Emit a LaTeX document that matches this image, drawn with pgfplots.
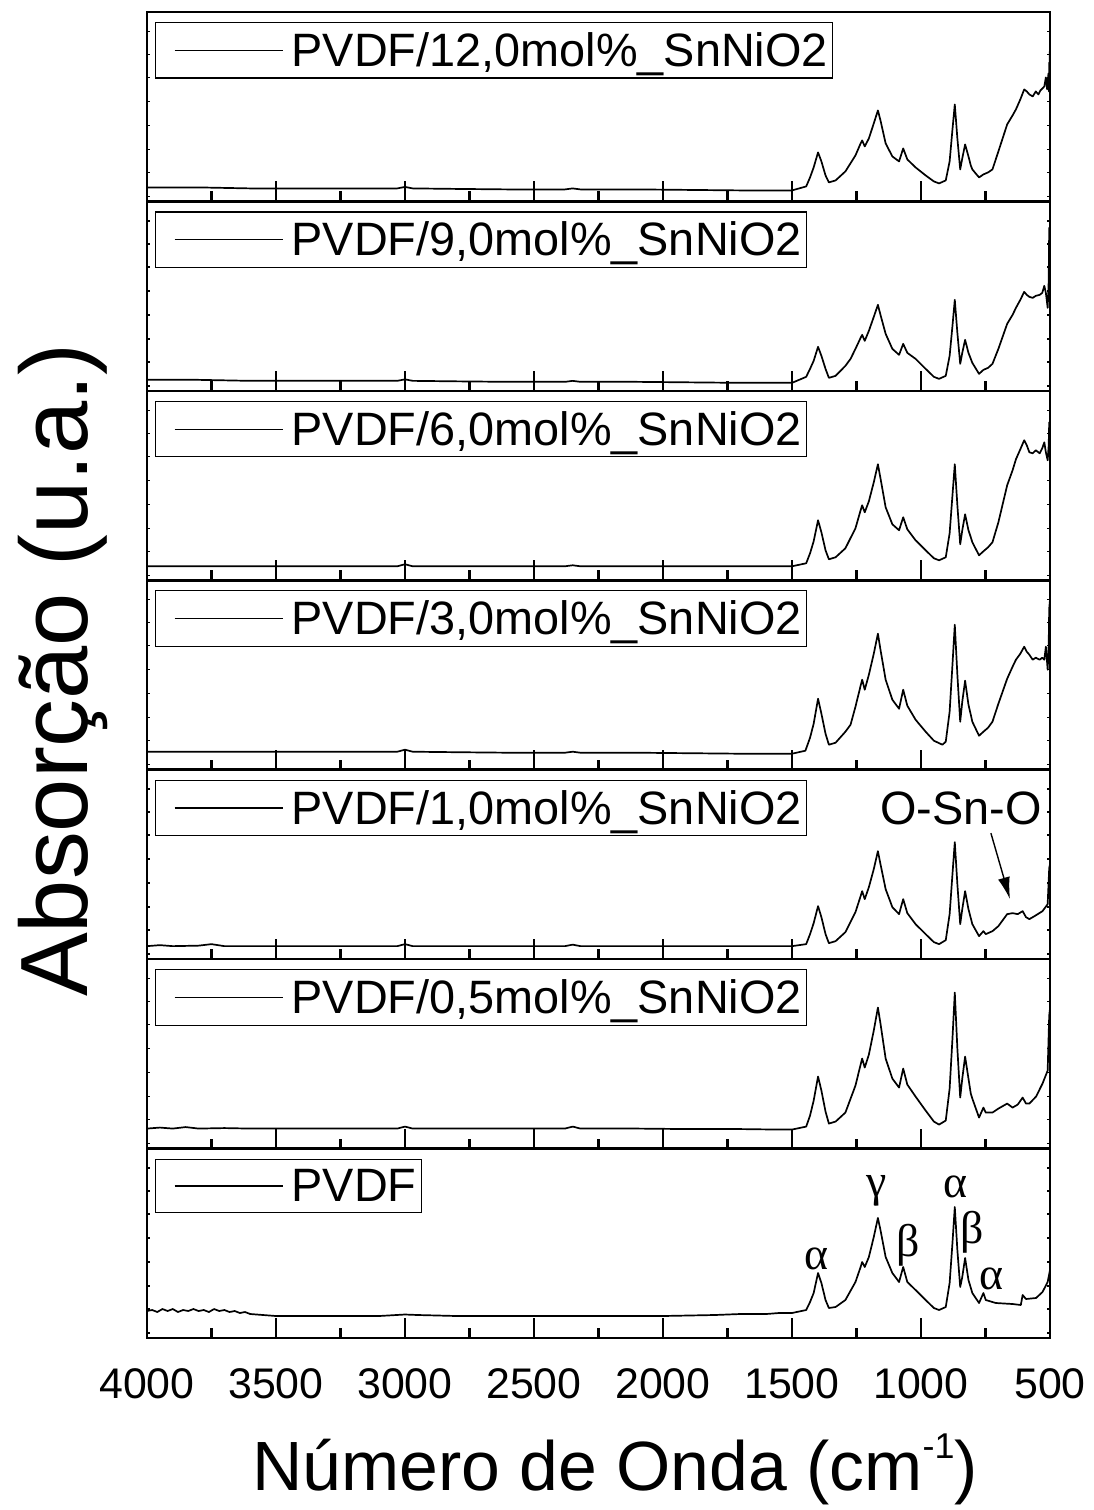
\documentclass[border=0pt]{standalone}
\usepackage{fontspec}
\setmainfont{Liberation Sans}
\newfontfamily\seriffont{Liberation Serif}
\usepackage{pgfplots}
\pgfplotsset{compat=1.18}
\usepgfplotslibrary{groupplots}
\usetikzlibrary{arrows.meta}
\begin{document}
\begin{tikzpicture}
\begin{groupplot}[
  group style={group size=1 by 7, vertical sep=0pt, xticklabels at=edge bottom, group name=g},
  width=903bp, height=189.43bp, scale only axis,
  xmin=500, xmax=4000, x dir=reverse, ymin=0, ymax=189.43,
  xtick={500,1000,...,4000}, minor x tick num=1, xtick pos=bottom,
  ytick={5,29,52,76,100,124,147,170}, yticklabels={}, ytick pos=both,
  tick align=inside, major tick length=20bp, minor tick length=10bp,
  every tick/.style={black, line width=2.2bp},
  ytick style={dash pattern=on 3bp off 200bp, line width=1.5bp},
  axis line style={line width=2.5bp},
  xticklabel style={font=\fontsize{43}{43}\selectfont, /pgf/number format/assume math mode=true, /pgf/number format/1000 sep={}, inner sep=0pt, yshift=-30bp},
  cycle list={{black, solid, mark=none}},
  every axis plot/.append style={line width=1.7bp, line join=round},
  legend style={at={(0.009,0.947)}, anchor=north west, draw=black, line width=1.1bp, inner xsep=3bp, inner ysep=8bp, font=\fontsize{47}{50}\selectfont, nodes={inner sep=2bp}},
  legend cell align=left,
  legend image code/.code={\path[draw=none,fill=none] (0bp,0bp) -- (131bp,0bp); \draw[#1, line width=1.3bp] (16bp,0bp) -- (124bp,0bp);},
]
% 12.0
\nextgroupplot
\addplot coordinates {(4000,14)(3900,14)(3800,14)(3700,13.5)(3600,13)(3400,13)(3200,13)(3030,13)(3000,14.5)(2970,13)(2800,12.5)(2600,12)(2380,12)(2350,13)(2320,12)(2100,12)(1900,11.5)(1700,11)(1550,11)
(1500,11)(1445,15)(1430,24)(1416,34)(1399,49)(1386,40)(1370,26)(1357,19)(1331,21)(1293,30)(1254,46)(1234,58)(1228,61)(1218,55)(1202,63)(1183,78)(1167,91)(1157,81)(1137,58)(1111,45)(1085,40)(1069,53)(1053,42)(1021,34)(982,26)(950,20)(930,18)(904,21)(889,40)(878,72)(869,97)(859,63)(848,32)(840,43)(829,57)(816,45)(807,36)(801,32)(775,24)(758,27)(740,29)(723,32)(700,50)(666,77)(645,86)(632,92)(615,102)(600,112)(590,110)(580,107)(567,105)(555,110)(545,107)(537,111)(529,113)(522,115)(516,124)(511,112)(509,118)(506,128)(504,110)(503,139)(502,120)(501,150)(500,130)};
\addlegendentry{PVDF/12,0mol\%\_SnNiO2}
% 9.0
\nextgroupplot
\addplot coordinates {(4000,11)(3900,11)(3800,11)(3700,10.5)(3600,10)(3400,10)(3200,10)(3030,10)(3000,11.5)(2970,10)(2800,9.5)(2600,9)(2380,9)(2350,10)(2320,9)(2100,9)(1900,8.5)(1700,8)(1550,8)
(1500,8)(1445,14)(1430,22)(1416,30)(1399,44)(1386,35)(1370,22)(1357,13)(1331,15)(1293,25)(1273,32)(1254,42)(1234,53)(1228,56)(1218,50)(1202,60)(1183,74)(1167,86)(1157,76)(1137,57)(1111,42)(1085,36)(1069,47)(1053,38)(1021,32)(982,22)(950,14)(930,12)(904,15)(889,35)(878,65)(869,91)(859,58)(848,27)(840,38)(829,51)(816,38)(807,32)(801,28)(775,17)(758,21)(740,23)(723,27)(700,42)(666,67)(645,76)(632,83)(615,91)(600,99)(590,96)(580,94)(567,93)(555,95)(540,96)(530,98)(522,105)(516,98)(509,83)(505,110)(503,163)(501,120)(500,125)};
\addlegendentry{PVDF/9,0mol\%\_SnNiO2}
% 6.0
\nextgroupplot
\addplot coordinates {(4000,14)(3900,14)(3800,14)(3700,14)(3600,14)(3400,14)(3200,14)(3030,14)(3000,16)(2970,14)(2800,14)(2600,14)(2380,14)(2350,15)(2320,14)(2100,14)(1900,14)(1700,14)(1550,14)
(1500,14)(1445,17)(1430,27)(1416,39)(1399,60)(1386,48)(1370,30)(1357,21)(1331,23)(1293,32)(1254,52)(1234,70)(1228,75)(1218,68)(1202,79)(1183,98)(1167,116)(1157,102)(1137,73)(1111,56)(1085,50)(1069,63)(1053,51)(1021,40)(982,30)(950,22)(930,20)(904,23)(889,47)(878,85)(869,116)(859,75)(848,36)(840,50)(829,66)(816,50)(807,43)(801,38)(775,25)(758,29)(740,33)(723,38)(700,58)(666,95)(645,110)(632,121)(615,131)(600,140)(590,135)(580,128)(567,127)(555,130)(540,127)(530,132)(522,138)(516,128)(509,120)(505,135)(503,158)(500,150)};
\addlegendentry{PVDF/6,0mol\%\_SnNiO2}
% 3.0
\nextgroupplot
\addplot coordinates {(4000,18)(3900,18)(3800,18)(3700,18)(3600,18)(3400,18)(3200,18)(3030,18)(3000,20)(2970,18)(2800,17.5)(2600,17)(2380,17)(2350,18)(2320,17)(2100,17)(1900,16.5)(1700,16)(1550,16)
(1500,16)(1448,19)(1430,32)(1416,46)(1399,71)(1386,56)(1370,36)(1357,25)(1331,27)(1293,38)(1273,45)(1254,63)(1234,84)(1228,90)(1218,80)(1202,95)(1183,116)(1167,136)(1157,120)(1137,90)(1111,70)(1085,61)(1069,80)(1053,64)(1021,50)(982,38)(950,29)(917,25)(904,28)(889,58)(878,105)(869,145)(859,95)(848,48)(840,68)(829,89)(816,65)(807,55)(801,48)(775,34)(758,38)(740,42)(723,48)(700,66)(666,91)(645,103)(632,110)(615,116)(600,123)(590,118)(580,115)(567,110)(555,112)(540,110)(530,112)(522,110)(516,123)(509,100)(505,125)(503,161)(500,170)};
\addlegendentry{PVDF/3,0mol\%\_SnNiO2}
% 1.0
\nextgroupplot
\addplot coordinates {(4000,13)(3950,14)(3900,13)(3800,13.5)(3750,15)(3700,13)(3600,13)(3400,13)(3200,13)(3030,13)(3000,15)(2970,13)(2800,13)(2600,13)(2380,13)(2350,14.5)(2320,13)(2100,13)(1900,13)(1700,13)(1550,13)
(1500,13)(1445,15)(1430,25)(1416,36)(1399,53)(1386,42)(1370,25)(1357,16)(1331,18)(1293,27)(1254,47)(1234,63)(1228,68)(1218,60)(1202,72)(1183,90)(1167,108)(1157,95)(1137,70)(1111,52)(1085,45)(1069,60)(1053,46)(1021,35)(982,25)(950,17)(930,15)(904,19)(889,45)(878,85)(869,117)(859,75)(848,35)(840,50)(829,68)(816,50)(801,35)(775,23)(758,28)(749,25)(723,28)(700,33)(666,45)(645,46)(625,45)(606,48)(593,42)(580,40)(560,43)(529,48)(509,55)(503,91)(500,95)};
\addlegendentry{PVDF/1,0mol\%\_SnNiO2}
\node[font=\fontsize{47}{47}\selectfont] at (axis cs:845,151) {O-Sn-O};
\draw[line width=1.4bp, -{Latex[length=22bp,width=12bp]}] (axis cs:729,126) -- (axis cs:655,60);
% 0.5
\nextgroupplot
\addplot coordinates {(4000,20)(3950,21)(3900,20)(3850,21.5)(3800,20)(3700,20.5)(3600,20)(3400,20)(3200,20)(3030,20)(3000,22)(2970,20)(2800,20)(2600,20)(2380,20)(2350,22)(2320,20)(2100,20)(1900,19.5)(1700,19.5)(1550,19)
(1500,19)(1445,22)(1430,33)(1416,48)(1399,72)(1386,58)(1370,37)(1357,25)(1331,27)(1293,36)(1254,63)(1234,84)(1228,90)(1218,81)(1202,94)(1183,118)(1167,141)(1157,125)(1137,90)(1111,70)(1085,61)(1069,80)(1053,64)(1021,52)(982,38)(950,27)(930,24)(904,28)(889,60)(878,110)(869,156)(859,100)(848,51)(840,70)(829,92)(816,70)(807,55)(801,50)(775,31)(758,41)(749,36)(723,36)(700,40)(666,45)(645,41)(625,44)(606,51)(593,45)(580,45)(554,52)(529,65)(509,78)(503,133)(500,140)};
\addlegendentry{PVDF/0,5mol\%\_SnNiO2}
% PVDF
\nextgroupplot
\addplot coordinates {(4000,27)(3980,28)(3960,26)(3940,29)(3920,27)(3900,29)(3880,26)(3860,28)(3840,27)(3820,29)(3800,27)(3780,28)(3760,26)(3740,29)(3720,27)(3700,28)(3680,26)(3660,27)(3640,25)(3620,26)(3600,24)(3550,23)(3500,22)(3300,22)(3100,22)(3000,23.5)(2950,23)(2800,22)(2500,22)(2200,22)(2000,22)(1800,23)(1700,24)(1600,24)(1550,25)
(1500,25)(1445,28)(1430,36)(1416,45)(1399,65)(1386,55)(1370,38)(1357,30)(1331,31)(1293,38)(1254,56)(1234,71)(1228,76)(1218,71)(1202,81)(1183,101)(1167,120)(1157,108)(1137,81)(1111,65)(1085,56)(1069,71)(1053,56)(1021,48)(982,38)(950,30)(930,28)(904,31)(889,55)(878,95)(869,131)(859,88)(848,51)(840,61)(829,80)(816,58)(801,45)(775,35)(758,45)(749,38)(710,35)(645,34)(613,33)(606,43)(593,39)(554,40)(529,46)(509,56)(500,68)};
\addlegendentry{PVDF}
\node[font=\seriffont\fontsize{46}{46}\selectfont] at (axis cs:1406,79.5) {α};
\node[font=\seriffont\fontsize{46}{46}\selectfont] at (axis cs:1171,147) {γ};
\node[font=\seriffont\fontsize{46}{46}\selectfont] at (axis cs:868,151.5) {α};
\node[font=\seriffont\fontsize{46}{46}\selectfont] at (axis cs:1050,93) {β};
\node[font=\seriffont\fontsize{46}{46}\selectfont] at (axis cs:802,105.5) {β};
\node[font=\seriffont\fontsize{46}{46}\selectfont] at (axis cs:726,59) {α};
\end{groupplot}
\node[anchor=base, font=\fontsize{70}{70}\selectfont] at ([shift={(468bp,-152bp)}]g c1r7.south west) {Número de Onda (cm\raisebox{32bp}{\fontsize{36}{36}\selectfont -1})};
\node[rotate=90, anchor=base, font=\fontsize{96}{96}\selectfont] at ([shift={(-59bp,668bp)}]g c1r7.south west) {Absorção (u.a.)};
\pgfresetboundingbox
\path[use as bounding box] ([shift={(-147bp,-172bp)}]g c1r7.south west) rectangle ([shift={(947bp,1338bp)}]g c1r7.south west);
\end{tikzpicture}
\end{document}
